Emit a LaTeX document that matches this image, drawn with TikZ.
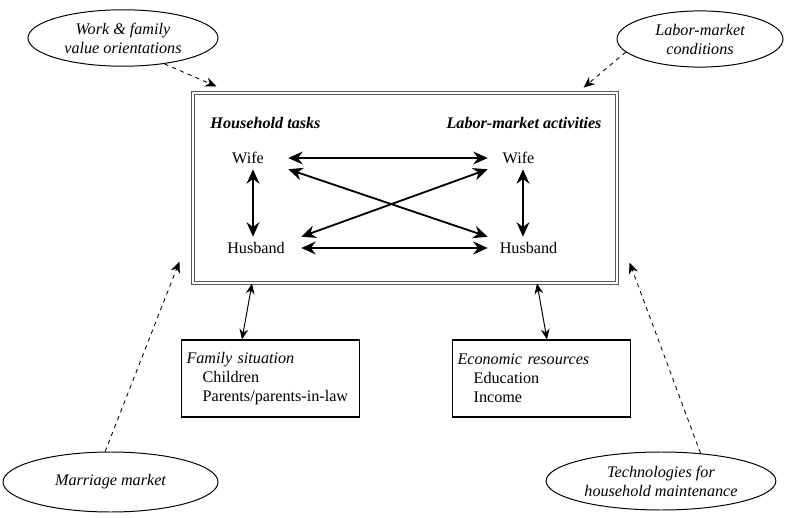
\documentclass[tikz,border=0pt]{standalone}
\usepackage{fontspec}
\setmainfont{Liberation Serif}
\usetikzlibrary{arrows.meta,shapes.geometric,positioning}

\begin{document}
\begin{tikzpicture}[
        every node/.style={font=\fontsize{11.5}{13.5}\selectfont},
        factor/.style={draw, line width=0.7pt, ellipse, align=center, font=\fontsize{11.5}{13.5}\selectfont\itshape},
        spouse/.style={minimum height=0.55cm, inner sep=0pt},
        heading/.style={font=\fontsize{11.5}{13.5}\selectfont\bfseries\itshape},
        resource/.style={draw, line width=0.8pt, minimum width=4.425cm, minimum height=1.925cm, text width=4.2cm, align=left},
        link/.style={line width=1.3pt, {Stealth[length=3.6mm,width=3.2mm]}-{Stealth[length=3.6mm,width=3.2mm]}},
        thin link/.style={line width=0.7pt, {Stealth[length=2.6mm,width=2.2mm]}-{Stealth[length=2.6mm,width=2.2mm]}},
        influence/.style={dashed, line width=0.6pt, -{Stealth[length=2.8mm,width=2.4mm]}}
    ]
    \useasboundingbox (0,0) rectangle (20,12.925);

    \node[draw=black!65, line width=0.8pt, double, double distance=1pt, minimum width=10.6cm, minimum height=4.75cm] (main) at (10.125,8.225) {};

    \node[heading] (household tasks) at (6.6375,9.85) {Household tasks};
    \node[heading] (labor activities) at (13.1,9.85) {Labor-market activities};

    \node[spouse, minimum width=2cm] (wife home) at (6.2,8.975) {Wife};
    \node[spouse, minimum width=2.25cm] (husband home) at (6.4,6.725) {Husband};
    \node[spouse, minimum width=1.525cm] (wife work) at (12.9625,8.975) {Wife};
    \node[spouse, minimum width=2.025cm] (husband work) at (13.2125,6.725) {Husband};

    \draw[link] (wife home.east) -- (wife work.west);
    \draw[link] (husband home.east) -- (husband work.west);
    \draw[link] (wife home.south east) -- (husband work.north west);
    \draw[link] (husband home.north east) -- (wife work.south west);
    \draw[link] ([xshift=0.125cm]wife home.south) -- ([xshift=0.125cm]wife home.south |- husband home.north);
    \draw[link] ([xshift=0.1125cm]wife work.south) -- ([xshift=0.1125cm]wife work.south |- husband work.north);

    \node[resource] (family) at (6.7625,3.4625) {\textit{Family situation}\\\hspace*{1em}Children\\\hspace*{1em}Parents/parents-in-law};
    \node[resource] (economic) at (13.5375,3.4625) {\textit{Economic resources}\\\hspace*{1em}Education\\\hspace*{1em}Income};

    \draw[thin link] ([xshift=-3.825cm]main.south) -- ([xshift=-0.7125cm]family.north);
    \draw[thin link] ([xshift=3.3cm]main.south) -- ([xshift=0.1375cm]economic.north);

    \node[factor, minimum width=4.75cm, minimum height=1.25cm] (values) at (3.075,11.975) {Work \& family\\value orientations};
    \node[factor, minimum width=4.15cm, minimum height=1.3cm] (labor conditions) at (17.5,11.95) {Labor-market\\conditions};
    \node[factor, minimum width=5.375cm, minimum height=1.5cm] (marriage) at (2.7625,0.875) {Marriage market};
    \node[factor, minimum width=5.2cm, minimum height=1.45cm] (technologies) at (16.525,0.9) {Technologies for\\household maintenance};

    \draw[influence] (values.-32) -- ([xshift=0.6cm,yshift=0.15cm]main.north west);
    \draw[influence] (labor conditions.190) -- ([xshift=-0.85cm,yshift=0.12cm]main.north east);
    \draw[influence] (marriage.100) -- ([xshift=-0.325cm,yshift=0.55cm]main.south west);
    \draw[influence] (technologies.35) -- ([xshift=0.3cm,yshift=0.525cm]main.south east);
\end{tikzpicture}
\end{document}
